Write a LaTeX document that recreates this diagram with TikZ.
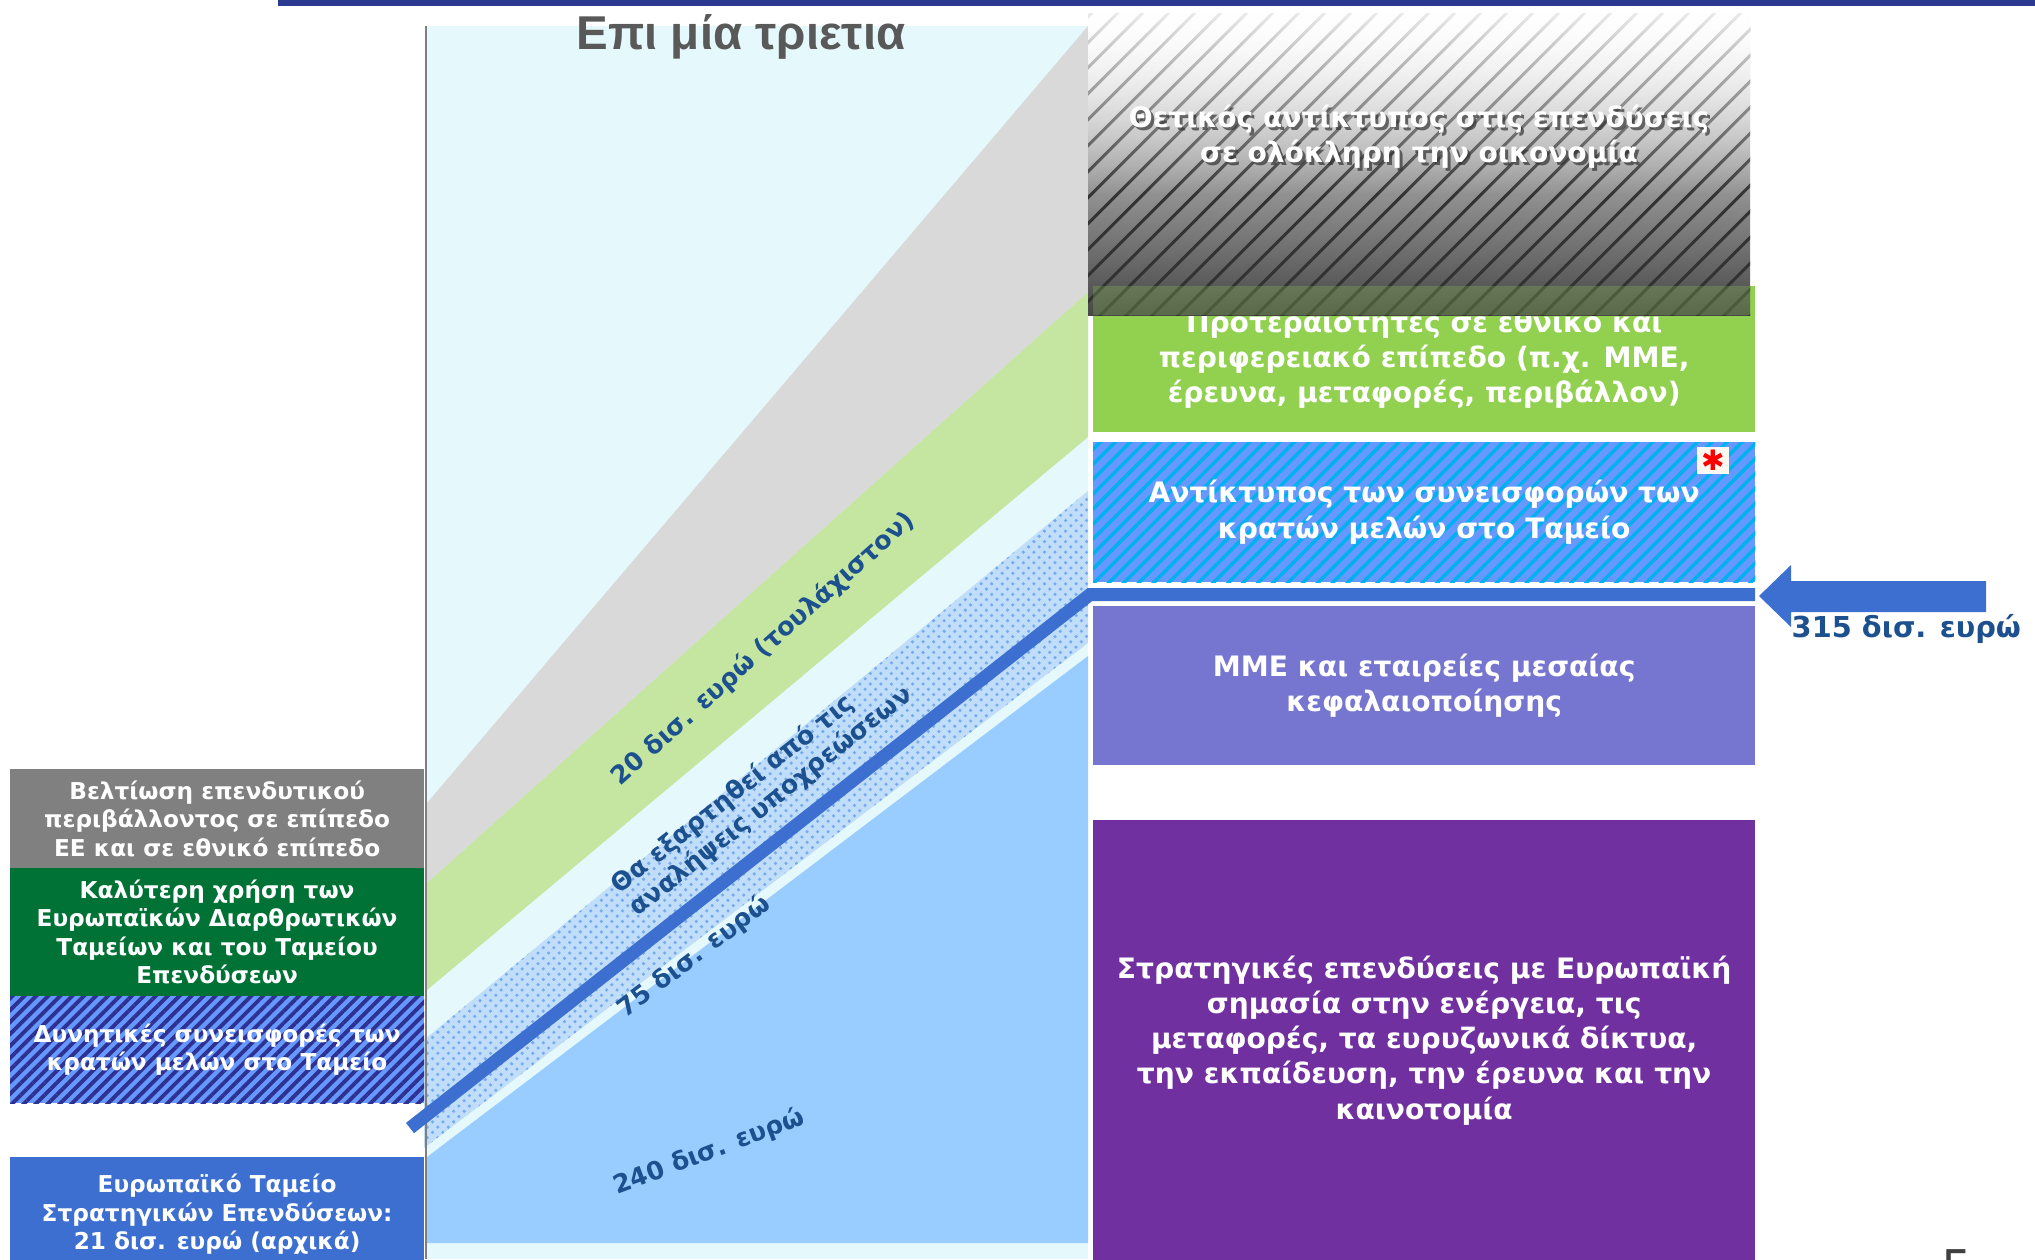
\documentclass[tikz,border=0pt]{standalone}
\usepackage{fontspec}
\setmainfont{DejaVu Sans}
\newfontfamily\titlefont{Liberation Sans}
\usepackage{tikz}
\usetikzlibrary{positioning, patterns, patterns.meta}
\usepackage{xcolor}
\usetikzlibrary{fadings}

\definecolor{navybar}{RGB}{44,57,144}
\definecolor{panelcyan}{RGB}{229,248,252}
\definecolor{panelgray}{RGB}{127,127,127}
\definecolor{bandgray}{RGB}{217,217,217}
\definecolor{bandgreen}{RGB}{196,230,160}
\definecolor{dotfill}{RGB}{192,222,249}
\definecolor{dotblue}{RGB}{120,170,240}
\definecolor{lightblue}{RGB}{153,204,255}
\definecolor{flowblue}{RGB}{61,111,209}
\definecolor{boxgray}{RGB}{128,128,128}
\definecolor{boxgreen}{RGB}{0,114,54}
\definecolor{hatchnavy}{RGB}{46,49,146}
\definecolor{hatchblue}{RGB}{102,153,255}
\definecolor{cyanstripe}{RGB}{0,176,240}
\definecolor{priogreen}{RGB}{146,208,80}
\definecolor{smepurple}{RGB}{118,118,209}
\definecolor{stratpurple}{RGB}{112,48,160}
\definecolor{labelblue}{RGB}{28,80,142}
\definecolor{titlegray}{RGB}{89,89,89}
\definecolor{starbg}{RGB}{252,248,240}

\tikzfading[name=fadedown, top color=transparent!10, bottom color=transparent!100]

\begin{document}
\begin{tikzpicture}[x=0.01cm, y=-0.01cm,
	leftbox/.style={anchor=north west, minimum width=4.14cm, inner sep=0pt, outer sep=0pt, align=center, text=white, font=\bfseries\fontsize{6.6}{8.1}\selectfont},
	rightbox/.style={anchor=north west, minimum width=6.62cm, inner sep=0pt, outer sep=0pt, align=center, text=white, font=\bfseries\fontsize{8}{10}\selectfont},
	amount/.style={text=labelblue, inner sep=0pt, font=\bfseries\fontsize{7.2}{8.3}\selectfont},
	flow/.style={draw=flowblue, line width=3.7pt}]
	
	\useasboundingbox (0,0) rectangle (2035,1259);
	
	% top rule
	\fill[navybar] (278,0) rectangle (2035,6);
	
	% three year panel
	\fill[panelcyan] (427,26) rectangle (1088,1259);
	\fill[bandgray] (427,803) -- (1088,26) -- (1088,292) -- (427,883) -- cycle;
	\fill[bandgreen] (427,883) -- (1088,292) -- (1088,437) -- (427,990) -- cycle;
	\fill[dotfill] (424,1040) -- (1088,491) -- (1088,643) -- (424,1148) -- cycle;
	\fill[pattern=crosshatch dots, pattern color=dotblue] (424,1040) -- (1088,491) -- (1088,643) -- (424,1148) -- cycle;
	\fill[lightblue] (427,1157) -- (1088,656) -- (1088,1243) -- (427,1243) -- cycle;
	\draw[panelgray, line width=0.85pt] (426,26) -- (426,1259);
	
	\node[font=\titlefont\bfseries\fontsize{13.5}{15}\selectfont, text=titlegray, anchor=base] (title) at (741,49) {Επι μία τριετια};
	
	\node[amount, rotate=41.8] (least) at (763,649) {20 δισ. ευρώ (τουλάχιστον)};
	\node[amount, rotate=38.5, align=left] (depend) at (762,790) {Θα εξαρτηθεί από τις\\αναλήψεις υποχρεώσεων};
	\node[amount, rotate=37] (mid) at (694,957) {75 δισ. ευρώ};
	\node[amount, rotate=20.6] (core) at (709,1152) {240 δισ. ευρώ};
	
	% left column
	\node[leftbox, fill=boxgray, minimum height=0.99cm] (envir) at (10,769) {Βελτίωση επενδυτικού\\περιβάλλοντος σε επίπεδο\\ΕΕ και σε εθνικό επίπεδο};
	\node[leftbox, fill=boxgreen, minimum height=1.28cm, below=0pt of envir] (funds) {Καλύτερη χρήση των\\Ευρωπαϊκών Διαρθρωτικών\\Ταμείων και του Ταμείου\\Επενδύσεων};
	\node[leftbox, preaction={fill=hatchblue}, pattern={Lines[angle=45, distance=2.4pt, line width=1.1pt]}, pattern color=hatchnavy, minimum height=1.07cm, below=0pt of funds] (contrib) {Δυνητικές συνεισφορές των\\κρατών μελών στο Ταμείο};
	\node[leftbox, fill=flowblue, minimum height=1.14cm, below=0.54cm of contrib] (efsi) {Ευρωπαϊκό Ταμείο\\Στρατηγικών Επενδύσεων:\\21 δισ. ευρώ (αρχικά)};
	
	% right column
	\node[rightbox, fill=priogreen, minimum height=1.46cm] (prio) at (1093,286) {Προτεραιότητες σε εθνικό και\\περιφερειακό επίπεδο (π.χ. ΜΜΕ,\\έρευνα, μεταφορές, περιβάλλον)};
	
	\shade[top color=white, bottom color=black!72] (1088,13) rectangle (1750,315);
	\fill[pattern={Lines[angle=45, distance=5.4pt, line width=0.9pt]}, pattern color=black!80] (1088,13) rectangle (1750,315);
	\fill[white, path fading=fadedown] (1088,13) rectangle (1750,195);
	\fill[priogreen, opacity=0.25] (1093,286) rectangle (1750,315);
	\node[rightbox, anchor=center, text=black!80, opacity=0.7] at (1422,140) {Θετικός αντίκτυπος στις επενδύσεις\\σε ολόκληρη την οικονομία};
	\node[rightbox, anchor=center] (outlook) at (1419,137) {Θετικός αντίκτυπος στις επενδύσεις\\σε ολόκληρη την οικονομία};
	
	\node[rightbox, preaction={fill=hatchblue}, pattern={Lines[angle=45, distance=3pt, line width=1pt]}, pattern color=cyanstripe, minimum height=1.40cm, below=0.1cm of prio] (impact) {Αντίκτυπος των συνεισφορών των\\κρατών μελών στο Ταμείο};
	\node[fill=starbg, text=red, inner sep=0pt, minimum width=0.32cm, minimum height=0.27cm, font=\fontsize{8}{8}\selectfont] (star) at (1713,460) {✱};
	\node[rightbox, fill=smepurple, minimum height=1.59cm, below=0.24cm of impact] (sme) {ΜΜΕ και εταιρείες μεσαίας\\κεφαλαιοποίησης};
	\node[rightbox, fill=stratpurple, minimum height=4.4cm, below=0.55cm of sme] (strat) {Στρατηγικές επενδύσεις με Ευρωπαϊκή\\σημασία στην ενέργεια, τις\\μεταφορές, τα ευρυζωνικά δίκτυα,\\την εκπαίδευση, την έρευνα και την\\καινοτομία};
	
	% fund line and arrow
	\coordinate (start) at (410,1128);
	\coordinate (bend) at (1090,594.5);
	\coordinate (barEnd) at (1755,594.5);
	\draw[flow] (start) -- (bend) -- (barEnd);
	\fill[flowblue] (1986,581) -- (1791,581) -- (1791,565) -- (1759,596) -- (1791,627) -- (1791,612) -- (1986,612) -- cycle;
	\node[amount, font=\bfseries\fontsize{8.2}{9}\selectfont, anchor=base west] (total) at (1791,637) {315 δισ. ευρώ};
	
	\node[text=black!75, inner sep=0pt, anchor=north west, font=\fontsize{14}{14}\selectfont] (pagenum) at (1941,1249) {5};
\end{tikzpicture}
\end{document}
